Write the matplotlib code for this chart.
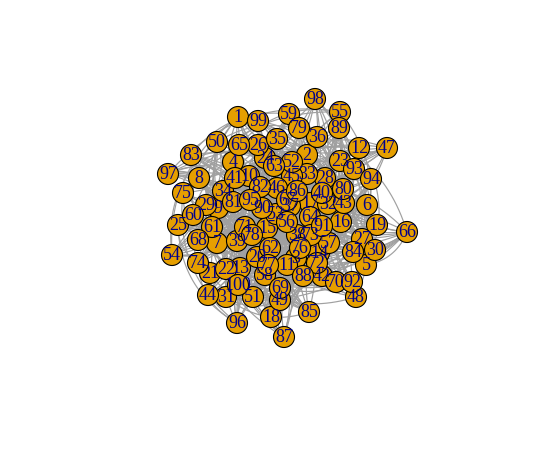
import numpy as np
import matplotlib
matplotlib.use("Agg")
import matplotlib.pyplot as plt
from matplotlib.collections import LineCollection
from matplotlib.patches import Circle

# vertex positions (pixel coords, y down)
node_x = [238, 307, 296, 233, 366, 367, 217, 199, 218, 249,
          287, 359, 240, 319, 267, 341, 310, 271, 377, 257,
          210, 226, 340, 265, 178, 258, 362, 325, 206, 375,
          226, 328, 307, 223, 277, 317, 290, 297, 237, 322,
          235, 322, 344, 208, 292, 277, 387, 356, 280, 217,
          253, 292, 276, 172, 340, 287, 329, 265, 289, 193,
          212, 270, 274, 310, 239, 407, 287, 198, 280, 336,
          245, 317, 311, 198, 183, 300, 268, 252, 299, 343,
          233, 260, 191, 353, 309, 297, 284, 303, 339, 262,
          322, 352, 354, 371, 250, 237, 168, 315, 258, 238]
node_y = [117, 155, 258, 162, 265, 205, 243, 178, 208, 176,
          265, 148, 268, 253, 228, 222, 203, 317, 225, 257,
          273, 269, 161, 158, 225, 145, 239, 178, 205, 250,
          297, 204, 174, 191, 139, 137, 206, 235, 241, 193,
          178, 276, 203, 295, 176, 188, 148, 297, 300, 142,
          297, 162, 214, 255, 112, 222, 243, 275, 114, 215,
          227, 248, 166, 217, 145, 232, 200, 240, 288, 282,
          227, 263, 235, 263, 193, 248, 265, 235, 128, 189,
          202, 187, 155, 252, 312, 191, 337, 276, 128, 208,
          226, 282, 169, 179, 200, 323, 174, 99, 121, 285]
labels = [str(i) for i in range(1, 101)]

# neighbour lists (vertex -> partners)
neighbours = {
    1: [45, 12, 88, 23, 70, 9, 61], 2: [77, 40, 13, 56, 91, 34, 84],
    3: [19, 50, 72, 8, 33, 65], 4: [58, 90, 17, 46, 27, 100],
    5: [29, 81, 62, 38, 12, 99], 6: [74, 15, 86, 21, 44, 31],
    7: [93, 36, 52, 64, 80, 28], 8: [30, 57, 73, 16, 14, 92],
    9: [42, 66, 11, 76, 20, 85], 10: [71, 47, 94, 48, 55, 60],
    11: [25, 39, 54, 68, 83, 97], 12: [18, 49, 96, 87, 51, 22],
    13: [24, 35, 63, 26, 41, 89], 14: [79, 59, 98, 36, 2, 67],
    15: [43, 32, 40, 6, 95, 57], 16: [82, 10, 1, 53, 37, 65],
    17: [86, 69, 5, 30, 74, 19], 18: [61, 21, 45, 73, 88, 2],
    19: [62, 64, 24, 44, 78, 90], 20: [66, 35, 93, 11, 80, 56],
    21: [84, 51, 3, 27, 94, 40], 22: [63, 7, 89, 48, 15, 72],
    23: [31, 100, 42, 8, 54, 38], 24: [97, 47, 9, 70, 29, 81],
    25: [91, 53, 67, 12, 34, 86], 26: [76, 92, 18, 58, 17, 43],
    27: [33, 45, 13, 69, 98, 55], 28: [57, 75, 39, 4, 64, 96],
    29: [71, 68, 50, 16, 87, 32], 30: [20, 95, 41, 22, 59, 77],
    31: [49, 85, 99, 60, 14, 46], 32: [83, 6, 36, 23, 65, 52],
    33: [1, 74, 25, 90, 79, 62], 34: [26, 56, 87, 42, 19, 48],
    35: [66, 28, 37, 61, 100, 5], 36: [88, 94, 21, 10, 75, 73],
    37: [63, 80, 44, 3, 24, 91], 38: [47, 9, 57, 18, 70, 82],
    39: [96, 13, 27, 67, 55, 30], 40: [54, 76, 29, 99, 7, 89],
    41: [95, 11, 85, 43, 64, 93], 42: [17, 60, 84, 20, 35, 59],
    43: [78, 1, 98, 52, 26, 71], 44: [72, 38, 31, 66, 94, 15],
    45: [59, 92, 86, 8, 28, 49], 46: [40, 77, 50, 61, 97, 23],
    47: [74, 22, 41, 63, 81, 12], 48: [56, 83, 33, 89, 16, 4],
    49: [68, 19, 79, 72, 6, 100], 50: [73, 99, 54, 25, 37, 36],
    51: [90, 14, 80, 57, 47, 3], 52: [62, 67, 4, 11, 96, 20],
    53: [65, 84, 27, 76, 70, 42], 54: [30, 1, 93, 32, 82, 16],
    55: [86, 2, 64, 44, 21, 58], 56: [91, 24, 96, 13, 45, 85],
    57: [95, 66, 31, 22, 52, 7], 58: [39, 78, 48, 77, 10, 50],
    59: [87, 83, 43, 17, 8, 76], 60: [33, 98, 15, 26, 1, 70],
    61: [80, 20, 75, 34, 51, 92], 62: [5, 69, 9, 88, 63, 23],
    63: [71, 100, 79, 99, 44, 88], 64: [12, 4, 32, 61, 73, 51],
    65: [67, 89, 14, 55, 30, 27],
    66: [82, 37, 3, 46, 28, 78, 11, 50, 5, 62],
    67: [81, 94, 85, 36, 40, 13], 68: [41, 92, 2, 7, 38, 74],
    69: [60, 24, 53, 65, 91, 33], 70: [97, 10, 19, 95, 48, 68],
    71: [54, 44, 87, 17, 45, 83], 72: [56, 34, 100, 35, 49, 26],
    73: [57, 89, 29, 62, 31, 67], 74: [79, 25, 96, 81, 39, 43],
    75: [98, 55, 21, 8, 91, 18], 76: [52, 6, 16, 93, 86, 14],
    77: [42, 59, 27, 87, 47, 60], 78: [23, 85, 71, 40, 1, 69],
    79: [9, 82, 18, 66, 13, 80], 80: [84, 26, 99, 64, 32, 2],
    81: [4, 71, 12, 57, 30, 65], 82: [35, 22, 40, 49, 87, 75],
    83: [92, 3, 58, 94, 29, 68], 84: [64, 100, 45, 96, 61, 6],
    85: [10, 77, 43, 28, 53, 24], 86: [7, 90, 15, 37, 59, 54],
    87: [90, 34, 95, 19, 50, 41], 88: [48, 31, 46, 24, 9, 97],
    89: [52, 80, 18, 3, 33, 11], 90: [94, 26, 14, 100, 38, 21],
    91: [6, 29, 47, 51, 20, 36], 92: [99, 13, 89, 57, 16, 5],
    93: [17, 70, 55, 49, 34, 60], 94: [97, 2, 74, 58, 42, 31],
    95: [63, 46, 19, 27, 73, 83], 96: [39, 75, 15, 58, 25, 72],
    97: [55, 81, 8, 69, 84, 41], 98: [20, 23, 50, 76, 51, 61],
    99: [73, 1, 10, 7, 68, 85], 100: [69, 75, 39, 47, 37, 18],
}

W, H = 538, 455
fig = plt.figure(figsize=(W / 100, H / 100), dpi=100)
ax = fig.add_axes([0, 0, 1, 1])
ax.set_xlim(0, W)
ax.set_ylim(H, 0)
ax.axis("off")

xs = np.array(node_x, float)
ys = np.array(node_y, float)

edges = set()
for a, nb in neighbours.items():
    for b in nb:
        if a != b:
            edges.add((min(a, b), max(a, b)))

t = np.linspace(0, 1, 30)[:, None]
segs = []
for a, b in sorted(edges):
    p0 = np.array([xs[a - 1], ys[a - 1]])
    p2 = np.array([xs[b - 1], ys[b - 1]])
    d = p2 - p0
    # curved edge: control point pushed off the chord
    p1 = (p0 + p2) / 2 + 0.28 * np.array([-d[1], d[0]])
    pts = (1 - t) ** 2 * p0 + 2 * (1 - t) * t * p1 + t ** 2 * p2
    segs.append(pts)
ax.add_collection(LineCollection(segs, colors="#A0A0A0", linewidths=0.85,
                                 zorder=1))

for x, y in zip(xs, ys):
    ax.add_patch(Circle((x, y), 10.5, facecolor="#E69F00",
                        edgecolor="black", linewidth=0.8, zorder=2))
for x, y, s in zip(xs, ys, labels):
    ax.text(x, y + 0.5, s, ha="center", va="center", fontsize=13,
            family="Liberation Serif", color="#00008B", zorder=3)

fig.savefig("out.png", dpi=100)
